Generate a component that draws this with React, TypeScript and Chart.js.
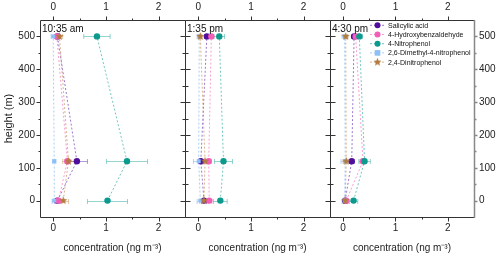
import React, { useEffect, useRef } from "react";
import { Chart, registerables } from "chart.js";

Chart.register(...registerables);

const FONT = "'Liberation Sans', Arial, sans-serif";

// heights of the three sampling levels (m)
const heights = [0, 120, 500];
const panelTimes = ["10:35 am", "1:35 pm", "4:30 pm"];
const compounds = [
  "Salicylic acid",
  "4-Hydroxybenzaldehyde",
  "4-Nitrophenol",
  "2,6-Dimethyl-4-nitrophenol",
  "2,4-Dinitrophenol",
];
const xTickValues = [0, 1, 2];
const yTickValues = [0, 100, 200, 300, 400, 500];

// values per panel (10:35 am, 1:35 pm, 4:30 pm), each ordered by height 0, 120, 500 m
const salicylicAcid = [[0.08, 0.45, 0.08], [0.11, 0.05, 0.165], [0.04, 0.165, 0.21]];
const salicylicAcidErr = [[0.05, 0.2, 0.05], [0.05, 0.05, 0.04], [0.03, 0.05, 0.04]];
const hydroxybenzaldehyde = [[0.1, 0.27, 0.07], [0.21, 0.2, 0.25], [0.06, 0.38, 0.24]];
const hydroxybenzaldehydeErr = [[0.05, 0.05, 0.05], [0.05, 0.05, 0.04], [0.04, 0.06, 0.04]];
const nitrophenol = [[1.03, 1.4, 0.83], [0.42, 0.48, 0.4], [0.2, 0.41, 0.31]];
const nitrophenolErr = [[0.38, 0.39, 0.25], [0.13, 0.17, 0.1], [0.08, 0.11, 0.06]];
const dimethylNitrophenol = [[0.02, 0.02, 0.0], [0.04, 0.01, 0.02], [0.03, 0.04, 0.03]];
const dimethylNitrophenolErr = [[0.04, 0.03, 0.04], [0.06, 0.1, 0.04], [0.05, 0.08, 0.05]];
const dinitrophenol = [[0.19, 0.29, 0.12], [0.11, 0.13, 0.04], [0.04, 0.06, 0.05]];
const dinitrophenolErr = [[0.1, 0.11, 0.06], [0.08, 0.06, 0.03], [0.03, 0.06, 0.04]];

const seriesValues = [salicylicAcid, hydroxybenzaldehyde, nitrophenol, dimethylNitrophenol, dinitrophenol];
const seriesErrors = [salicylicAcidErr, hydroxybenzaldehydeErr, nitrophenolErr, dimethylNitrophenolErr, dinitrophenolErr];

const pointColors = ["#4F0E9C", "#F45DB5", "#0C9A8E", "#8EBFF6", "#B27A3C"];
const lineColors = [
  "rgba(90,30,170,0.6)",
  "rgba(245,95,180,0.6)",
  "rgba(20,160,150,0.6)",
  "rgba(130,185,245,0.7)",
  "rgba(190,130,70,0.6)",
];
const errColors = [
  "rgba(90,30,170,0.45)",
  "rgba(245,95,180,0.45)",
  "rgba(20,160,150,0.45)",
  "rgba(130,185,245,0.6)",
  "rgba(190,130,70,0.45)",
];

const panelLeft = [40, 185, 330];
const panelRight = [185, 330, 474];

function makeStar(color: string, r: number): HTMLCanvasElement {
  const c = document.createElement("canvas");
  const s = Math.ceil(r * 2 + 2);
  c.width = s;
  c.height = s;
  const ctx = c.getContext("2d")!;
  ctx.fillStyle = color;
  ctx.beginPath();
  for (let i = 0; i < 10; i++) {
    const a = -Math.PI / 2 + (i * Math.PI) / 5;
    const rr = i % 2 === 0 ? r : r * 0.45;
    ctx.lineTo(s / 2 + rr * Math.cos(a), s / 2 + rr * Math.sin(a));
  }
  ctx.closePath();
  ctx.fill();
  return c;
}

function drawMarker(ctx: CanvasRenderingContext2D, i: number, x: number, y: number, star: HTMLCanvasElement) {
  ctx.fillStyle = pointColors[i];
  if (i === 4) {
    ctx.drawImage(star, x - star.width / 2, y - star.height / 2);
  } else if (i === 3) {
    ctx.fillRect(x - 2.8, y - 2.8, 5.6, 5.6);
  } else {
    ctx.beginPath();
    ctx.arc(x, y, 3, 0, Math.PI * 2);
    ctx.fill();
  }
}

function Panel({ idx }: { idx: number }) {
  const ref = useRef<HTMLCanvasElement | null>(null);
  useEffect(() => {
    const canvas = ref.current!;
    const star = makeStar(pointColors[4], 4.2);
    const datasets = compounds.map((name, i) => ({
      label: name,
      data: heights.map((h, j) => ({ x: seriesValues[i][idx][j], y: h })),
      showLine: true,
      borderColor: lineColors[i],
      borderWidth: 1,
      borderDash: [2, 2],
      pointBackgroundColor: pointColors[i],
      pointBorderColor: pointColors[i],
      pointBorderWidth: 0,
      pointRadius: i === 3 ? 2.8 : 3.2,
      pointStyle: i === 4 ? star : i === 3 ? "rect" : "circle",
      order: 4 - i,
      clip: false as any,
    }));

    const tickFont = { family: FONT, size: 10 };
    const setXTicks = (s: any) => {
      s.ticks = xTickValues.map((v) => ({ value: v }));
    };
    const setYTicks = (s: any) => {
      s.ticks = yTickValues.map((v) => ({ value: v }));
    };

    const scales: any = {
      x: {
        type: "linear",
        position: "bottom",
        min: -0.25,
        max: 2.5,
        afterBuildTicks: setXTicks,
        afterFit: (s: any) => {
          s.height = 39;
        },
        grid: { display: false, drawTicks: true, tickLength: 4 },
        border: { display: false },
        ticks: { font: tickFont, color: "#222", padding: 1, maxRotation: 0 },
        title: {
          display: true,
          text: "concentration (ng m⁻³)",
          font: { family: FONT, size: 10 },
          color: "#222",
          padding: { top: 0, bottom: 2 },
        },
      },
      x2: {
        type: "linear",
        position: "top",
        min: -0.25,
        max: 2.5,
        afterBuildTicks: setXTicks,
        afterFit: (s: any) => {
          s.height = 20;
        },
        grid: { display: false, drawTicks: true, tickLength: 4 },
        border: { display: false },
        ticks: { font: tickFont, color: "#222", padding: 3, maxRotation: 0 },
      },
      y: {
        type: "linear",
        position: "left",
        min: -50,
        max: 550,
        display: idx === 0,
        afterBuildTicks: setYTicks,
        afterFit: (s: any) => {
          s.width = idx === 0 ? 40 : 0;
        },
        grid: { display: false, drawTicks: true, tickLength: 4 },
        border: { display: false },
        ticks: { font: tickFont, color: "#222", padding: 1 },
        title: {
          display: true,
          text: "height (m)",
          font: { family: FONT, size: 11 },
          color: "#222",
          padding: { top: 2, bottom: 2 },
        },
      },
    };
    if (idx === 2) {
      scales.yR = {
        type: "linear",
        position: "right",
        min: -50,
        max: 550,
        afterBuildTicks: setYTicks,
        afterFit: (s: any) => {
          s.width = 26;
        },
        grid: { display: false, drawTicks: true, tickLength: 3 },
        border: { display: false },
        ticks: { font: tickFont, color: "#222", padding: 2 },
      };
    }

    const errorBars = {
      id: "errorBars",
      beforeDatasetsDraw(chart: any) {
        const ctx = chart.ctx;
        const xs = chart.scales.x;
        const ys = chart.scales.y;
        ctx.save();
        ctx.lineWidth = 1;
        for (let i = 0; i < compounds.length; i++) {
          ctx.strokeStyle = errColors[i];
          heights.forEach((h, j) => {
            const v = seriesValues[i][idx][j];
            const e = seriesErrors[i][idx][j];
            const xl = xs.getPixelForValue(v - e);
            const xr = xs.getPixelForValue(v + e);
            const y = Math.round(ys.getPixelForValue(h)) + 0.5;
            ctx.beginPath();
            ctx.moveTo(xl, y);
            ctx.lineTo(xr, y);
            ctx.moveTo(xl, y - 2.5);
            ctx.lineTo(xl, y + 2.5);
            ctx.moveTo(xr, y - 2.5);
            ctx.lineTo(xr, y + 2.5);
            ctx.stroke();
          });
        }
        ctx.restore();
      },
    };

    const frame = {
      id: "frame",
      afterDraw(chart: any) {
        const ctx = chart.ctx;
        const { left, right, top, bottom } = chart.chartArea;
        const xs = chart.scales.x;
        const ys = chart.scales.y;
        const L = Math.round(left) + 0.5;
        const R = Math.round(right) + 0.5;
        const T = Math.round(top) + 0.5;
        const B = Math.round(bottom) + 0.5;
        ctx.save();
        ctx.strokeStyle = "#333";
        ctx.lineWidth = 1;
        ctx.beginPath();
        ctx.moveTo(L, T);
        ctx.lineTo(R, T);
        ctx.moveTo(L, B);
        ctx.lineTo(R, B);
        ctx.moveTo(L, T);
        ctx.lineTo(L, B);
        if (idx < 2) {
          ctx.moveTo(R, T);
          ctx.lineTo(R, B);
        }
        // x ticks (major at integers, minor halves)
        [0, 0.5, 1, 1.5, 2].forEach((v) => {
          const len = Number.isInteger(v) ? 4 : 2;
          const px = Math.round(xs.getPixelForValue(v)) + 0.5;
          ctx.moveTo(px, T);
          ctx.lineTo(px, T - len);
          ctx.moveTo(px, B);
          ctx.lineTo(px, B + len);
        });
        // y ticks
        for (let v = 0; v <= 500; v += 50) {
          const major = v % 100 === 0;
          const len = major ? 4 : 2;
          const py = Math.round(ys.getPixelForValue(v)) + 0.5;
          if (idx === 0) {
            ctx.moveTo(L - len, py);
            ctx.lineTo(L, py);
          } else {
            ctx.moveTo(L - len - 1, py);
            ctx.lineTo(L + len + 1, py);
          }
        }
        ctx.stroke();
        if (idx === 2) {
          ctx.strokeStyle = "#888";
          ctx.lineWidth = 1.5;
          ctx.beginPath();
          ctx.moveTo(R, T - 0.5);
          ctx.lineTo(R, B + 0.5);
          for (let v = 0; v <= 500; v += 50) {
            const len = v % 100 === 0 ? 3 : 2;
            const py = Math.round(ys.getPixelForValue(v)) + 0.5;
            ctx.moveTo(R, py);
            ctx.lineTo(R + len, py);
          }
          ctx.stroke();
        }
        // time label
        ctx.fillStyle = "#111";
        ctx.font = `10px ${FONT}`;
        ctx.textBaseline = "middle";
        ctx.textAlign = "left";
        ctx.fillText(panelTimes[idx], left + 2, top + 9);

        // legend in the last panel
        if (idx === 2) {
          ctx.font = `7px ${FONT}`;
          compounds.forEach((name, i) => {
            const y = top + 5.3 + i * 9.2;
            const lx = left + 40;
            ctx.strokeStyle = lineColors[i];
            ctx.lineWidth = 1;
            ctx.setLineDash([2, 2]);
            ctx.beginPath();
            ctx.moveTo(lx, y);
            ctx.lineTo(lx + 14, y);
            ctx.stroke();
            ctx.setLineDash([]);
            drawMarker(ctx, i, lx + 7.5, y, star);
            ctx.fillStyle = "#111";
            ctx.fillText(name, lx + 18, y + 0.5);
          });
        }
        ctx.restore();
      },
    };

    const chart = new Chart(canvas, {
      type: "scatter",
      data: { datasets: datasets as any },
      options: {
        animation: false,
        responsive: false,
        maintainAspectRatio: false,
        events: [],
        layout: {
          padding: {
            left: idx === 0 ? 0 : panelLeft[idx],
            right: idx === 2 ? 0 : 500 - panelRight[idx],
            top: 0,
            bottom: 0,
          },
        },
        plugins: {
          legend: { display: false },
          tooltip: { enabled: false },
        },
        scales,
      } as any,
      plugins: [errorBars, frame],
    });
    return () => chart.destroy();
  }, [idx]);
  return (
    <canvas
      ref={ref}
      width={500}
      height={256}
      style={{ position: "absolute", left: 0, top: 0, width: 500, height: 256 }}
    />
  );
}

export default function App() {
  return (
    <div style={{ position: "fixed", left: 0, top: 0, width: 500, height: 256, background: "#fff" }}>
      <Panel idx={0} />
      <Panel idx={1} />
      <Panel idx={2} />
    </div>
  );
}
